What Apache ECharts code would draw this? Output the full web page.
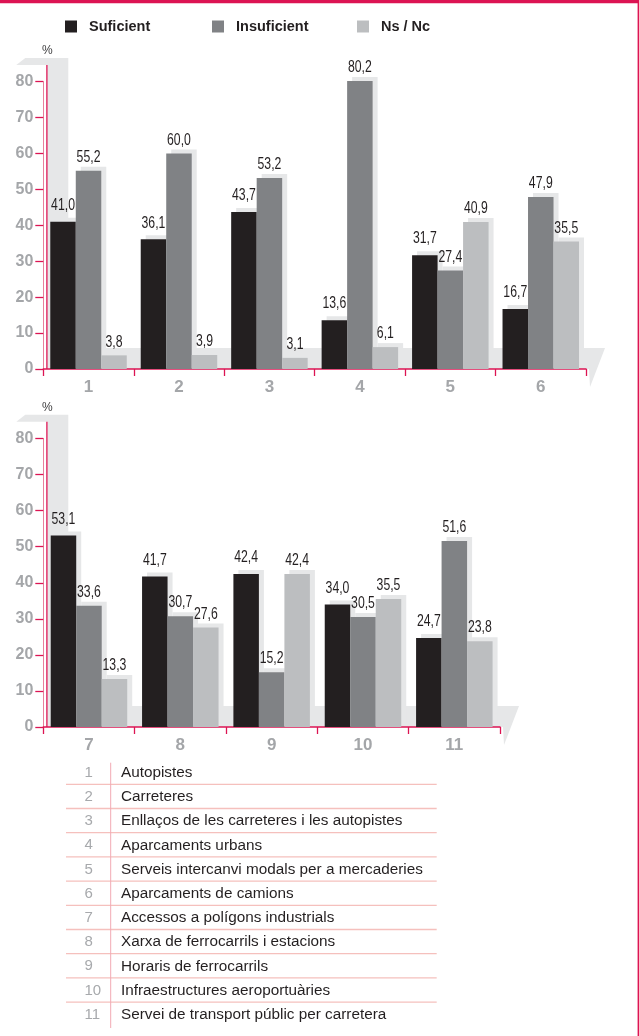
<!DOCTYPE html>
<html>
<head>
<meta charset="utf-8">
<script src="https://cdn.jsdelivr.net/npm/echarts@6/dist/echarts.min.js"></script>
<style>
html,body{margin:0;padding:0;background:#fff;}
#c{width:639px;height:1036px;}
</style>
</head>
<body>
<div id="c"></div>
<script>
// ---- data ----
const seriesNames = ['Suficient', 'Insuficient', 'Ns / Nc'];
const catsTop = ['1', '2', '3', '4', '5', '6'];
const sufTop = [41.0, 36.1, 43.7, 13.6, 31.7, 16.7];
const insTop = [55.2, 60.0, 53.2, 80.2, 27.4, 47.9];
const nsTop = [3.8, 3.9, 3.1, 6.1, 40.9, 35.5];
const catsBot = ['7', '8', '9', '10', '11'];
const sufBot = [53.1, 41.7, 42.4, 34.0, 24.7];
const insBot = [33.6, 30.7, 15.2, 30.5, 51.6];
const nsBot = [13.3, 27.6, 42.4, 35.5, 23.8];
const yTicks = [0, 10, 20, 30, 40, 50, 60, 70, 80];
const tableNums = ['1', '2', '3', '4', '5', '6', '7', '8', '9', '10', '11'];
const tableLabels = [
  'Autopistes',
  'Carreteres',
  'Enllaços de les carreteres i les autopistes',
  'Aparcaments urbans',
  'Serveis intercanvi modals per a mercaderies',
  'Aparcaments de camions',
  'Accessos a polígons industrials',
  'Xarxa de ferrocarrils i estacions',
  'Horaris de ferrocarrils',
  'Infraestructures aeroportuàries',
  'Servei de transport públic per carretera'
];

// ---- styles ----
const RED = '#dc1453';
const PINK = '#e7809c';
const AXGRAY = '#a4a6a9';
const colors = ['#231f20', '#808285', '#bcbec0'];
const SHADOW = '#e6e7e8';
const SANS = '"Liberation Sans", Arial, sans-serif';
const BAR_W = 25.5;

const chart = echarts.init(document.getElementById('c'), null, {renderer: 'canvas'});

function fmt(v) { return v.toFixed(1).replace('.', ','); }

const grids = [
  {left: 43.3, top: 81.7, width: 542.7, height: 287.3},
  {left: 43.3, top: 438.5, width: 456.7, height: 288.5}
];

function xAxis(idx, cats) {
  return {
    type: 'category', gridIndex: idx, data: cats,
    axisLine: {lineStyle: {color: RED, width: 1.5}},
    axisTick: {show: true, length: 7, lineStyle: {color: RED, width: 1.3}},
    axisLabel: {color: AXGRAY, fontFamily: SANS, fontWeight: 'bold', fontSize: 17, margin: 10},
    splitLine: {show: false}
  };
}
function yAxis(idx) {
  return {
    type: 'value', gridIndex: idx, min: 0, max: 80,
    axisLine: {show: true, lineStyle: {color: PINK, width: 1}},
    axisTick: {show: true, length: 8, customValues: yTicks, lineStyle: {color: RED, width: 1.3}},
    axisLabel: {color: AXGRAY, fontFamily: SANS, fontWeight: 'bold', fontSize: 16, margin: 10, customValues: yTicks},
    splitLine: {show: false}
  };
}

function barSeries(name, data, gi, ci) {
  return {
    name: name, type: 'bar', xAxisIndex: gi, yAxisIndex: gi, data: data,
    barWidth: BAR_W, barGap: '0%', clip: false, z: 3,
    itemStyle: {color: colors[ci], shadowColor: SHADOW, shadowBlur: 0, shadowOffsetX: 5, shadowOffsetY: -4},
    emphasis: {disabled: true},
    label: {show: false}
  };
}

// value labels drawn through the axes' scale, with a condensed text transform
function labelSeries(gi, cats, a, b, c) {
  return {
    type: 'custom', xAxisIndex: gi, yAxisIndex: gi, z: 5, silent: true, clip: false,
    data: cats.map((_, i) => [i, a[i], b[i], c[i]]),
    encode: {x: 0, y: [1, 2, 3]},
    renderItem: function (params, api) {
      const i = api.value(0);
      const children = [];
      for (let k = 0; k < 3; k++) {
        const v = api.value(k + 1);
        const p = api.coord([i, v]);
        children.push({
          type: 'text',
          x: p[0] + (k - 1) * BAR_W,
          y: p[1] - (k === 0 ? 8 : 5),
          scaleX: 0.72,
          style: {
            text: fmt(v), fill: '#231f20', font: '17px ' + SANS,
            align: 'center', verticalAlign: 'bottom'
          }
        });
      }
      return {type: 'group', children: children};
    }
  };
}

const series = [
  barSeries(seriesNames[0], sufTop, 0, 0),
  barSeries(seriesNames[1], insTop, 0, 1),
  barSeries(seriesNames[2], nsTop, 0, 2),
  barSeries(seriesNames[0], sufBot, 1, 0),
  barSeries(seriesNames[1], insBot, 1, 1),
  barSeries(seriesNames[2], nsBot, 1, 2),
  labelSeries(0, catsTop, sufTop, insTop, nsTop),
  labelSeries(1, catsBot, sufBot, insBot, nsBot)
];

const legendLefts = [65, 212, 357];
const legends = seriesNames.map((n, i) => ({
  data: [n], left: legendLefts[i], top: 19, padding: 0,
  icon: 'rect', itemWidth: 12, itemHeight: 12, selectedMode: false,
  itemStyle: {shadowColor: 'transparent', shadowBlur: 0, shadowOffsetX: 0, shadowOffsetY: 0},
  textStyle: {fontFamily: SANS, fontWeight: 'bold', fontSize: 14.5, color: '#231f20', padding: [0, 0, 0, 7]}
}));

chart.setOption({
  animation: false,
  backgroundColor: '#fff',
  legend: legends,
  grid: grids,
  xAxis: [xAxis(0, catsTop), xAxis(1, catsBot)],
  yAxis: [yAxis(0), yAxis(1)],
  series: series
});

// ---- decorations computed from the axes ----
const gfx = [];
gfx.push({type: 'rect', shape: {x: 0, y: 0, width: 639, height: 3.3}, style: {fill: RED}, z: 0});
gfx.push({type: 'rect', shape: {x: 637.6, y: 0, width: 1.4, height: 1036}, style: {fill: RED}, z: 0});

[catsTop, catsBot].forEach((cats, gi) => {
  const base = chart.convertToPixel({xAxisIndex: gi, yAxisIndex: gi}, [0, 0]);
  const top80 = chart.convertToPixel({xAxisIndex: gi, yAxisIndex: gi}, [0, 80]);
  const floorV = chart.convertToPixel({xAxisIndex: gi, yAxisIndex: gi}, [0, 5.85]);
  const left = grids[gi].left;
  const right = grids[gi].left + grids[gi].width;
  const baseY = base[1];
  const wallTop = top80[1] - 23.7;
  const floorTop = floorV[1];
  gfx.push({type: 'polygon', z: 0, shape: {points: [
    [left + 4, floorTop], [right + 19, floorTop], [right + 4, baseY + 18], [right + 3, baseY], [left + 4, baseY]
  ]}, style: {fill: SHADOW}});
  gfx.push({type: 'polygon', z: 0, shape: {points: [
    [left - 27, wallTop + 7], [left - 18, wallTop], [left + 25, wallTop], [left + 25, baseY],
    [left + 4, baseY], [left + 4, wallTop + 7]
  ]}, style: {fill: SHADOW}});
  gfx.push({type: 'line', z: 1, shape: {x1: left + 3.6, y1: wallTop + 7, x2: left + 3.6, y2: baseY},
    style: {stroke: RED, lineWidth: 1.3}});
  gfx.push({type: 'text', z: 1, x: left + 4, y: wallTop - 7, style: {
    text: '%', fill: '#414042', font: '12px ' + SANS, align: 'center', verticalAlign: 'middle'}});
});

// ---- legend table ----
const rowY0 = 772.7, rowH = 24.2;
tableNums.forEach((n, i) => {
  gfx.push({type: 'text', z: 1, x: 84.5, y: rowY0 + i * rowH, style: {
    text: n, fill: '#a7a9ac', font: '15px ' + SANS, align: 'left', verticalAlign: 'middle'}});
  gfx.push({type: 'text', z: 1, x: 121, y: rowY0 + i * rowH, style: {
    text: tableLabels[i], fill: '#231f20', font: '15.3px ' + SANS, align: 'left', verticalAlign: 'middle'}});
  if (i < tableNums.length - 1) {
    const ly = rowY0 + i * rowH + 11.6;
    gfx.push({type: 'line', z: 0, shape: {x1: 66, y1: ly, x2: 436.7, y2: ly},
      style: {stroke: '#f5c0bd', lineWidth: 1.3}});
  }
});
gfx.push({type: 'line', z: 0, shape: {x1: 110.7, y1: 762.7, x2: 110.7, y2: 1028},
  style: {stroke: '#f2a9b3', lineWidth: 1}});

chart.setOption({graphic: {elements: gfx}});
</script>
</body>
</html>
